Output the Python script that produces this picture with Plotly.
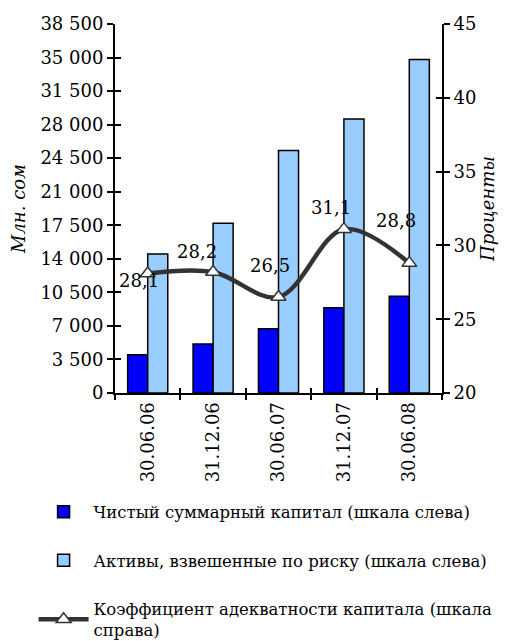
import plotly.graph_objects as go

categories = ["30.06.06", "31.12.06", "30.06.07", "31.12.07", "30.06.08"]
net_capital = [4000, 5100, 6700, 8900, 10100]
risk_assets = [14500, 17700, 25300, 28600, 34800]
adequacy = [28.1, 28.2, 26.5, 31.1, 28.8]
left_ticks = list(range(0, 38501, 3500))
right_ticks = [20, 25, 30, 35, 40, 45]

FONT = "DejaVu Serif"
FS = 18

fig = go.Figure()
fig.add_trace(go.Bar(
    x=categories, y=net_capital, name="Чистый суммарный капитал (шкала слева)",
    marker=dict(color="#0000FF", line=dict(color="black", width=1.5)),
    legendgroup="a", xaxis="x", yaxis="y"))
fig.add_trace(go.Bar(
    x=categories, y=risk_assets, name="Активы, взвешенные по риску (шкала слева)",
    marker=dict(color="#99CCFF", line=dict(color="black", width=1.5)),
    legendgroup="b", xaxis="x", yaxis="y"))
fig.add_trace(go.Scatter(
    x=categories, y=adequacy, name="Коэффициент адекватности капитала (шкала<br>справа)",
    mode="lines+markers", line=dict(color="#333333", width=4.5, shape="spline", smoothing=1),
    marker=dict(symbol="triangle-up", size=13, color="white", line=dict(color="#333333", width=1.5)),
    legendgroup="c", xaxis="x", yaxis="y2"))
# helper traces so overlay axes (crossing ticks) are drawn
fig.add_trace(go.Scatter(x=categories, y=[None]*5, showlegend=False, hoverinfo="skip", xaxis="x2", yaxis="y3"))
fig.add_trace(go.Scatter(x=categories, y=[None]*5, showlegend=False, hoverinfo="skip", xaxis="x2", yaxis="y4"))

dx = [-9, -16, -9, -13, -13]
dy = [-7, 20, 32, 22, 43]
for i, (c, v) in enumerate(zip(categories, adequacy)):
    fig.add_annotation(x=c, y=v, xref="x", yref="y2", text=f"{v:.1f}".replace(".", ","),
                       showarrow=False, xshift=dx[i], yshift=dy[i],
                       font=dict(family=FONT, size=FS, color="black"))

axis_common = dict(showgrid=False, zeroline=False, linecolor="black", linewidth=2, automargin=False,
                   tickcolor="black", tickwidth=2, tickfont=dict(family=FONT, size=FS, color="black"))

fig.update_layout(
    width=501, height=633,
    margin=dict(l=107, r=67, t=16, b=248, autoexpand=False),
    paper_bgcolor="white", plot_bgcolor="white",
    separators=", ",
    barmode="group", bargap=0.387, bargroupgap=0,
    font=dict(family=FONT, size=FS, color="black"),
    showlegend=True,
    legend=dict(x=-0.249, y=-0.275, xanchor="left", yanchor="top", traceorder="grouped",
                tracegroupgap=24, itemwidth=50, font=dict(family=FONT, size=16.5, color="black"),
                bgcolor="rgba(0,0,0,0)"),
    xaxis=dict(**axis_common, type="category", categoryorder="array", categoryarray=categories,
               range=[-0.5, 4.5], showline=True, ticks="outside", ticklen=5, tickson="boundaries",
               tickangle=-90),
    xaxis2=dict(showgrid=False, zeroline=False, overlaying="x", type="category", automargin=False,
                categoryorder="array", categoryarray=categories, range=[-0.5, 4.5],
                ticks="inside", ticklen=5, tickwidth=2, tickcolor="black", tickson="boundaries",
                showticklabels=False, showline=False, anchor="y", side="bottom"),
    yaxis=dict(**axis_common, range=[0, 38500], tickvals=left_ticks, tickformat=",d",
               showline=True, ticks="outside", ticklen=6,
               title=dict(text="<i>Млн. сом</i>", standoff=12, font=dict(family=FONT, size=FS))),
    yaxis2=dict(**axis_common, range=[20, 45], tickvals=right_ticks, overlaying="y", side="right",
                anchor="x", showline=True, ticks="outside", ticklen=6,
                title=dict(text="<i>Проценты</i>", standoff=4, font=dict(family=FONT, size=FS))),
    yaxis3=dict(showgrid=False, zeroline=False, range=[0, 38500], tickvals=left_ticks, automargin=False,
                overlaying="y", side="left", anchor="x", ticks="inside", ticklen=6, tickwidth=2,
                tickcolor="black", showticklabels=False, showline=False),
    yaxis4=dict(showgrid=False, zeroline=False, range=[20, 45], tickvals=right_ticks, automargin=False,
                overlaying="y", side="right", anchor="x", ticks="inside", ticklen=6, tickwidth=2,
                tickcolor="black", showticklabels=False, showline=False),
)

fig.write_html("out.html")
